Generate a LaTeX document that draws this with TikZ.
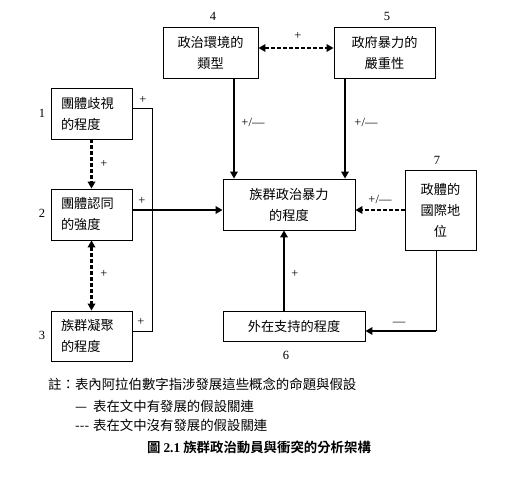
\documentclass[tikz,border=0pt]{standalone}
\usepackage{fontspec}
\newfontfamily\cjk{Noto Sans CJK TC}
\newfontfamily\cjkb{Noto Sans CJK TC Bold}
\setmainfont{Liberation Serif}
\usetikzlibrary{arrows.meta}
\begin{document}
\begin{tikzpicture}[x=1pt,y=-1pt,
  box/.style={draw,line width=0.9pt,inner sep=0pt,font=\cjk\fontsize{13.2}{21}\selectfont},
  thickarr/.style={line width=2.4pt,-{Triangle[length=7pt,width=7.5pt]}},
  thinln/.style={line width=0.9pt},
  dasharr/.style={line width=2.4pt,dash pattern=on 3.5pt off 2.5pt,-{Triangle[length=7pt,width=7.5pt]}},
  dasharr2/.style={line width=2.4pt,dash pattern=on 3.5pt off 2.5pt,{Triangle[length=7pt,width=7.5pt]}-{Triangle[length=7pt,width=7.5pt]}},
  lab/.style={font=\fontsize{12.5}{14}\selectfont,inner sep=0pt},
  num/.style={font=\fontsize{12.5}{14}\selectfont,inner sep=0pt},
  note/.style={font=\cjk\fontsize{13.4}{15}\selectfont,inner sep=0pt,anchor=west}
]
\useasboundingbox[fill=white] (0,0) rectangle (512,477);
% boxes
\node[box,minimum width=81pt,minimum height=51pt] (b1) at (91.5,113.5) {\parbox{61pt}{團體歧視\\的程度}};
\node[box,minimum width=81pt,minimum height=51pt] (b2) at (91.5,214.5) {\parbox{61pt}{團體認同\\的強度}};
\node[box,minimum width=81pt,minimum height=50pt] (b3) at (91.5,336) {\parbox{61pt}{族群凝聚\\的程度}};
\node[box,minimum width=95pt,minimum height=51pt,align=center] (b4) at (210.5,52.5) {政治環境的\\類型};
\node[box,minimum width=101pt,minimum height=51pt,align=center] (b5) at (384.5,52.5) {政府暴力的\\嚴重性};
\node[box,minimum width=132pt,minimum height=51pt,align=center] (c) at (289,204.5) {族群政治暴力\\的程度};
\node[box,minimum width=71pt,minimum height=80pt,align=center] (b7) at (440.5,210) {政體的\\國際地\\位};
\node[box,minimum width=142pt,minimum height=30pt] (b6) at (294,326) {外在支持的程度};
% numbers
\node[num] (n1) at (42,113) {1};
\node[num] (n2) at (42,213) {2};
\node[num] (n3) at (42,335) {3};
\node[num] (n4) at (213,16) {4};
\node[num] (n5) at (387,16) {5};
\node[num] (n7) at (437,160) {7};
\node[num] (n6) at (286,355) {6};
% helper coordinates
\coordinate (k1) at (152,108);
\coordinate (k3) at (152,331);
\coordinate (m2) at (140,210);
\coordinate (r) at (300,48);
\coordinate (x4) at (234,0);
\coordinate (x5) at (345,0);
\coordinate (x6) at (284,0);
\coordinate (p7) at (436,331);
% connectors
\draw[thinln] (b1.east |- k1) -- (k1) -- (k3) -- (b3.east |- k3);
\draw[thickarr] (b2.east |- m2) -- (c.west |- m2);
\draw[dasharr] (b1.south) -- (b2.north);
\draw[dasharr2] (b2.south) -- (b3.north);
\draw[dasharr2] (b4.east |- r) -- (b5.west |- r);
\draw[thickarr] (b4.south -| x4) -- (c.north -| x4);
\draw[thickarr] (b5.south -| x5) -- (c.north -| x5);
\draw[dasharr] (b7.west |- m2) -- (c.east |- m2);
\draw[thinln] (b7.south -| p7) -- (p7);
\draw[thickarr] (p7) -- (b6.east |- p7);
\draw[thickarr] (b6.north -| x6) -- (c.south -| x6);
% labels
\node[lab] (l1) at (143,100) {+};
\node[lab] (l2) at (142,201) {+};
\node[lab] (l3) at (141,322) {+};
\node[lab] (l12) at (104,164) {+};
\node[lab] (l23) at (104,274) {+};
\node[lab] (l45) at (298,36) {+};
\node[lab] (l4c) at (253,122) {+/—};
\node[lab] (l5c) at (366,122) {+/—};
\node[lab] (l7c) at (380,199) {+/—};
\node[lab] (l76) at (399,324) {—};
\node[lab] (l6c) at (295,274) {+};
% notes
\node[note] (t1) at (48,384) {註：表內阿拉伯數字指涉發展這些概念的命題與假設};
\node[note] (t2) at (75,406) {—\hspace{6pt}表在文中有發展的假設關連};
\node[note] (t3) at (75,425) {---\hspace{4pt}表在文中沒有發展的假設關連};
\node[inner sep=0pt,font=\cjkb\fontsize{13.4}{15}\selectfont] (cap) at (259,447) {圖 {\bfseries\rmfamily 2.1} 族群政治動員與衝突的分析架構};
\end{tikzpicture}
\end{document}
